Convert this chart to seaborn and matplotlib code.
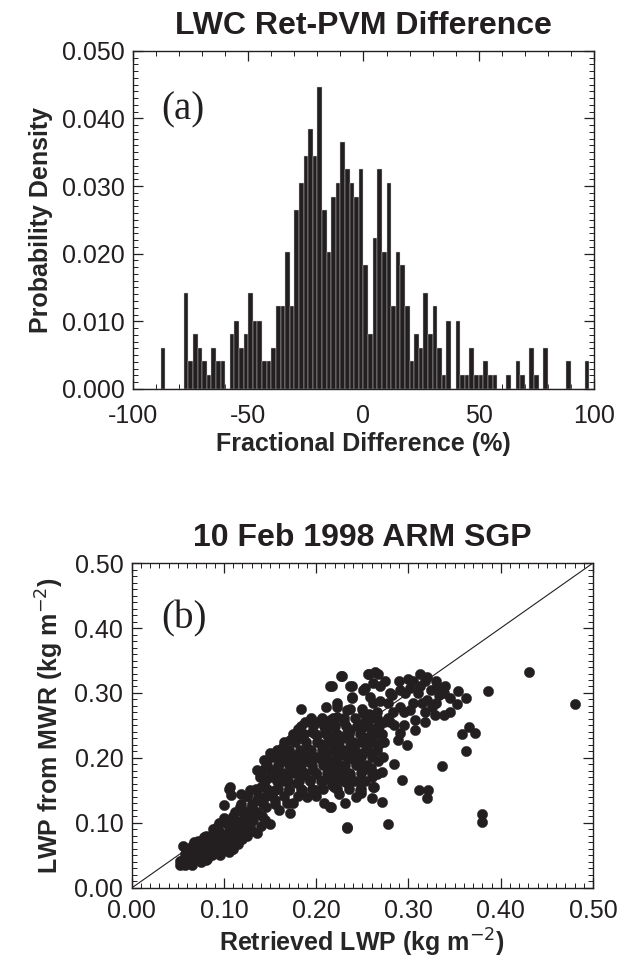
import numpy as np
import pandas as pd
import matplotlib
matplotlib.use("Agg")
import matplotlib.pyplot as plt
import seaborn as sns
from matplotlib.ticker import MultipleLocator, FormatStrFormatter

# ---------------- data: panel (a) histogram ----------------
bin_left = [-88, -78, -76, -74, -72, -70, -68, -66, -64, -62,
            -58, -56, -54, -52, -50, -48, -46, -44, -42, -40,
            -38, -36, -34, -32, -30, -28, -26, -24, -22, -20,
            -18, -16, -14, -12, -10, -8, -6, -4, -2, 0,
            2, 4, 6, 8, 10, 12, 14, 16, 18, 20,
            22, 24, 26, 28, 30, 32, 34, 36, 40, 42,
            44, 46, 48, 50, 52, 54, 56, 62, 66, 68,
            72, 74, 78, 88, 96]
density = [0.0061, 0.0142, 0.0041, 0.0081, 0.0061, 0.0041, 0.0020, 0.0061, 0.0041, 0.0041,
           0.0081, 0.0101, 0.0061, 0.0081, 0.0142, 0.0101, 0.0101, 0.0041, 0.0041, 0.0061,
           0.0122, 0.0122, 0.0203, 0.0122, 0.0264, 0.0304, 0.0345, 0.0385, 0.0345, 0.0446,
           0.0264, 0.0203, 0.0284, 0.0304, 0.0365, 0.0325, 0.0304, 0.0284, 0.0325, 0.0183,
           0.0081, 0.0223, 0.0325, 0.0203, 0.0304, 0.0122, 0.0203, 0.0183, 0.0122, 0.0041,
           0.0081, 0.0061, 0.0142, 0.0081, 0.0122, 0.0061, 0.0020, 0.0101, 0.0101, 0.0020,
           0.0020, 0.0061, 0.0020, 0.0020, 0.0041, 0.0020, 0.0020, 0.0020, 0.0041, 0.0020,
           0.0061, 0.0020, 0.0061, 0.0041, 0.0041]
bin_width = 2

# ---------------- data: panel (b) scatter ----------------
ret_lwp = [
    # outliers / right side
    0.431, 0.481, 0.386, 0.354, 0.362, 0.345, 0.353, 0.366, 0.358, 0.372, 0.362, 0.336, 0.380, 0.380,
    0.311, 0.321, 0.320, 0.293, 0.284, 0.271, 0.263, 0.271, 0.278, 0.233, 0.231, 0.243, 0.247, 0.216, 0.260,
    # upper right cluster
    0.228, 0.257, 0.267, 0.262, 0.269, 0.253, 0.239, 0.239, 0.237, 0.222, 0.217, 0.250, 0.257, 0.269,
    0.312, 0.320, 0.299, 0.291, 0.282, 0.302, 0.312, 0.324, 0.331, 0.340, 0.333, 0.320, 0.325, 0.329,
    0.338, 0.302, 0.291, 0.307, 0.295, 0.284, 0.307, 0.291, 0.289, 0.298, 0.273, 0.260, 0.251, 0.262,
    0.268, 0.259, 0.268, 0.262, 0.267, 0.259, 0.237, 0.230, 0.240, 0.233, 0.246, 0.237, 0.226, 0.222,
    0.217, 0.217, 0.222, 0.217, 0.222,
    0.275, 0.290, 0.305, 0.318, 0.330, 0.280, 0.296, 0.310, 0.338, 0.262, 0.278, 0.305, 0.315, 0.330,
    0.283, 0.295, 0.318, 0.345, 0.280, 0.318,
    # middle band
    0.227, 0.215, 0.256, 0.264, 0.237, 0.251, 0.239, 0.258, 0.184, 0.211, 0.222, 0.233, 0.251, 0.266,
    0.188, 0.201, 0.215, 0.230, 0.248, 0.183, 0.201, 0.215, 0.233, 0.251, 0.266, 0.172, 0.163, 0.150,
    0.143, 0.136, 0.139, 0.157, 0.168, 0.179, 0.193, 0.208, 0.222, 0.235, 0.251, 0.154, 0.168, 0.183,
    0.197, 0.212, 0.226, 0.237, 0.251, 0.266, 0.179, 0.193, 0.208, 0.219, 0.233, 0.248, 0.262, 0.168,
    0.175, 0.172, 0.208, 0.215, 0.233, 0.248, 0.260, 0.107, 0.108, 0.125, 0.117, 0.136, 0.146, 0.141,
    0.132, 0.150, 0.117, 0.103, 0.092, 0.107, 0.089, 0.078, 0.067, 0.056, 0.092, 0.081, 0.070, 0.060,
    0.056, 0.070, 0.085, 0.099, 0.110, 0.125, 0.136, 0.052, 0.081, 0.096,
    # dense core
    0.160, 0.175, 0.190, 0.205, 0.220, 0.185, 0.200, 0.215, 0.230, 0.245, 0.175, 0.190, 0.205, 0.220,
    0.240, 0.255, 0.165, 0.150, 0.200, 0.185, 0.225, 0.240, 0.195, 0.210, 0.180, 0.145, 0.160, 0.128,
    0.140, 0.155, 0.170, 0.120, 0.130, 0.145, 0.155, 0.190, 0.160,
    0.145, 0.157, 0.169, 0.181, 0.193, 0.205, 0.217, 0.229, 0.241, 0.253,
    0.140, 0.152, 0.164, 0.176, 0.188, 0.200, 0.212, 0.224, 0.236, 0.248, 0.260,
    0.147, 0.159, 0.171, 0.183, 0.195, 0.207, 0.219, 0.231, 0.243, 0.255,
    0.152, 0.164, 0.176, 0.188, 0.200, 0.212, 0.224, 0.236, 0.248, 0.260, 0.272,
    0.158, 0.170, 0.182, 0.194, 0.206, 0.218, 0.230, 0.242, 0.254, 0.266,
    0.165, 0.177, 0.189, 0.201, 0.213, 0.225, 0.237, 0.249, 0.261, 0.273,
    0.175, 0.187, 0.199, 0.211, 0.223, 0.235, 0.247, 0.259, 0.271,
    0.184, 0.196, 0.208, 0.220, 0.232, 0.244, 0.256, 0.268,
    0.194, 0.206, 0.218, 0.230, 0.242, 0.254, 0.266, 0.278,
    0.135, 0.147, 0.159, 0.171, 0.183, 0.195, 0.207, 0.222, 0.236,
    0.125, 0.137, 0.152, 0.165, 0.180, 0.200,
    0.118, 0.130, 0.142, 0.155, 0.112, 0.124, 0.136, 0.108, 0.120,
    # lower band
    0.052, 0.055, 0.058, 0.060, 0.062, 0.065, 0.067, 0.070, 0.072, 0.075, 0.075, 0.078, 0.080, 0.082,
    0.083, 0.085, 0.087, 0.088, 0.090, 0.092, 0.093, 0.095, 0.097, 0.098, 0.100, 0.102, 0.104, 0.106,
    0.108, 0.110, 0.112, 0.114, 0.116, 0.118, 0.120, 0.122, 0.125, 0.128, 0.130, 0.065, 0.058, 0.063,
    0.072, 0.077, 0.086, 0.095, 0.100,
    0.095, 0.100, 0.105, 0.088, 0.080, 0.072, 0.065, 0.060, 0.110, 0.105, 0.115, 0.120, 0.125, 0.130,
    0.140, 0.145, 0.110, 0.100, 0.105, 0.118,
]
mwr_lwp = [
    # outliers / right side
    0.332, 0.283, 0.303, 0.303, 0.293, 0.293, 0.283, 0.248, 0.237, 0.239, 0.211, 0.188, 0.114, 0.101,
    0.150, 0.150, 0.138, 0.166, 0.191, 0.179, 0.155, 0.132, 0.098, 0.093, 0.130, 0.140, 0.150, 0.125, 0.170,
    # upper right cluster
    0.326, 0.330, 0.330, 0.315, 0.310, 0.307, 0.310, 0.294, 0.276, 0.279, 0.311, 0.276, 0.268, 0.287,
    0.329, 0.324, 0.321, 0.305, 0.297, 0.307, 0.310, 0.305, 0.310, 0.311, 0.297, 0.289, 0.278, 0.266,
    0.266, 0.274, 0.279, 0.258, 0.251, 0.251, 0.243, 0.238, 0.228, 0.220, 0.255, 0.261, 0.248, 0.240,
    0.237, 0.228, 0.222, 0.207, 0.195, 0.184, 0.243, 0.232, 0.216, 0.201, 0.189, 0.169, 0.179, 0.168,
    0.158, 0.195, 0.216, 0.248, 0.263,
    0.318, 0.318, 0.318, 0.318, 0.318, 0.300, 0.300, 0.300, 0.300, 0.285, 0.285, 0.285, 0.285, 0.285,
    0.270, 0.270, 0.270, 0.270, 0.255, 0.255,
    # middle band
    0.326, 0.311, 0.330, 0.333, 0.310, 0.305, 0.292, 0.294, 0.275, 0.279, 0.284, 0.274, 0.269, 0.271,
    0.256, 0.256, 0.258, 0.256, 0.253, 0.230, 0.235, 0.233, 0.238, 0.233, 0.248, 0.228, 0.215, 0.207,
    0.197, 0.182, 0.171, 0.202, 0.197, 0.202, 0.207, 0.212, 0.207, 0.212, 0.207, 0.182, 0.176, 0.182,
    0.182, 0.187, 0.187, 0.176, 0.182, 0.176, 0.161, 0.166, 0.166, 0.156, 0.161, 0.153, 0.156, 0.130,
    0.130, 0.115, 0.130, 0.125, 0.094, 0.146, 0.138, 0.156, 0.143, 0.141, 0.125, 0.135, 0.125, 0.110,
    0.105, 0.099, 0.102, 0.099, 0.094, 0.084, 0.084, 0.079, 0.071, 0.064, 0.071, 0.066, 0.058, 0.051,
    0.043, 0.046, 0.053, 0.064, 0.074, 0.089, 0.084, 0.041, 0.043, 0.051,
    # dense core
    0.190, 0.188, 0.195, 0.198, 0.195, 0.172, 0.175, 0.178, 0.170, 0.165, 0.205, 0.215, 0.222, 0.225,
    0.225, 0.218, 0.165, 0.170, 0.150, 0.150, 0.145, 0.198, 0.240, 0.245, 0.245, 0.185, 0.178, 0.150,
    0.155, 0.150, 0.150, 0.118, 0.125, 0.140, 0.135, 0.140, 0.120,
    0.165, 0.165, 0.165, 0.165, 0.165, 0.165, 0.165, 0.165, 0.165, 0.165,
    0.177, 0.177, 0.177, 0.177, 0.177, 0.177, 0.177, 0.177, 0.177, 0.177, 0.177,
    0.189, 0.189, 0.189, 0.189, 0.189, 0.189, 0.189, 0.189, 0.189, 0.189,
    0.201, 0.201, 0.201, 0.201, 0.201, 0.201, 0.201, 0.201, 0.201, 0.201, 0.201,
    0.213, 0.213, 0.213, 0.213, 0.213, 0.213, 0.213, 0.213, 0.213, 0.213,
    0.225, 0.225, 0.225, 0.225, 0.225, 0.225, 0.225, 0.225, 0.225, 0.225,
    0.237, 0.237, 0.237, 0.237, 0.237, 0.237, 0.237, 0.237, 0.237,
    0.249, 0.249, 0.249, 0.249, 0.249, 0.249, 0.249, 0.249,
    0.261, 0.261, 0.261, 0.261, 0.261, 0.261, 0.261, 0.261,
    0.153, 0.153, 0.153, 0.153, 0.153, 0.153, 0.153, 0.153, 0.153,
    0.141, 0.141, 0.141, 0.141, 0.141, 0.141,
    0.129, 0.129, 0.129, 0.129, 0.117, 0.117, 0.117, 0.105, 0.105,
    # lower band
    0.035, 0.040, 0.036, 0.045, 0.040, 0.050, 0.043, 0.055, 0.047, 0.060, 0.040, 0.052, 0.062, 0.045,
    0.058, 0.068, 0.050, 0.062, 0.073, 0.055, 0.066, 0.078, 0.060, 0.072, 0.082, 0.065, 0.076, 0.088,
    0.070, 0.082, 0.092, 0.078, 0.088, 0.098, 0.085, 0.095, 0.105, 0.095, 0.115, 0.035, 0.052, 0.058,
    0.063, 0.072, 0.080, 0.088, 0.072,
    0.100, 0.108, 0.100, 0.090, 0.080, 0.072, 0.065, 0.060, 0.060, 0.055, 0.068, 0.075, 0.080, 0.088,
    0.095, 0.105, 0.110, 0.128, 0.153, 0.145,
]

# ---------------- style ----------------
sns.set_theme(style="ticks")
plt.rcParams["font.family"] = ["Liberation Sans", "DejaVu Sans"]
INK = "#231f20"
plt.rcParams.update({
    "axes.edgecolor": INK, "axes.linewidth": 1.0,
    "xtick.color": INK, "ytick.color": INK,
    "xtick.direction": "in", "ytick.direction": "in",
    "xtick.top": True, "ytick.right": True,
    "xtick.major.size": 7, "ytick.major.size": 7,
    "xtick.minor.size": 3.5, "ytick.minor.size": 3.5,
    "xtick.major.width": 0.9, "ytick.major.width": 0.9,
    "xtick.minor.width": 0.7, "ytick.minor.width": 0.7,
    "xtick.labelsize": 18, "ytick.labelsize": 18,
    "text.color": INK,
})

fig = plt.figure(figsize=(6.2, 9.58), dpi=100)
ax1 = fig.add_axes([0.2145, 0.594, 0.7435, 0.353])
ax2 = fig.add_axes([0.2124, 0.0731, 0.7441, 0.3392])

# ---- panel (a)
hist_df = pd.DataFrame({"center": np.array(bin_left, dtype=float) + bin_width / 2,
                        "density": np.array(density, dtype=float)})
sns.histplot(data=hist_df, x="center", weights="density", binwidth=bin_width,
             binrange=(-100, 100), stat="count",
             color=INK, edgecolor="#cfcfcf", linewidth=0.3, alpha=1.0, ax=ax1)
ax1.set_xlim(-100, 100)
ax1.set_ylim(0, 0.05)
ax1.xaxis.set_major_locator(MultipleLocator(50))
ax1.xaxis.set_minor_locator(MultipleLocator(10))
ax1.yaxis.set_major_locator(MultipleLocator(0.01))
ax1.yaxis.set_minor_locator(MultipleLocator(0.001))
ax1.yaxis.set_major_formatter(FormatStrFormatter("%.3f"))
ax1.xaxis.set_major_formatter(FormatStrFormatter("%d"))
ax1.set_title("LWC Ret-PVM Difference", fontsize=23, fontweight="bold", pad=12)
ax1.set_xlabel("Fractional Difference (%)", fontsize=18, fontweight="bold", labelpad=3)
ax1.set_ylabel("Probability Density", fontsize=18, fontweight="bold", labelpad=6)
ax1.text(0.062, 0.825, "(a)", transform=ax1.transAxes, fontsize=28,
         family=["Liberation Serif", "DejaVu Serif"], ha="left", va="center")
ax1.tick_params(axis="x", which="major", pad=11)

# ---- panel (b)
sc_df = pd.DataFrame({"ret": ret_lwp, "mwr": mwr_lwp})
lims = (0.0, 0.5)
sns.lineplot(x=list(lims), y=list(lims), color=INK, linewidth=0.8, ax=ax2, zorder=1)
sns.scatterplot(data=sc_df, x="ret", y="mwr", s=55, color=INK, edgecolor=INK,
                linewidth=0.3, ax=ax2, legend=False, zorder=2)
ax2.set_xlim(*lims)
ax2.set_ylim(*lims)
for axis in (ax2.xaxis, ax2.yaxis):
    axis.set_major_locator(MultipleLocator(0.1))
    axis.set_minor_locator(MultipleLocator(0.01))
    axis.set_major_formatter(FormatStrFormatter("%.2f"))
ax2.set_title("10 Feb 1998 ARM SGP", fontsize=23, fontweight="bold", pad=12)
ax2.set_xlabel("Retrieved LWP (kg m$^{-2}$)", fontsize=18, fontweight="bold", labelpad=3)
ax2.set_ylabel("LWP from MWR (kg m$^{-2}$)", fontsize=18, fontweight="bold", labelpad=6)
ax2.text(0.065, 0.828, "(b)", transform=ax2.transAxes, fontsize=28,
         family=["Liberation Serif", "DejaVu Serif"], ha="left", va="center")
ax2.tick_params(axis="x", which="major", pad=8)

for ax in (ax1, ax2):
    ax.tick_params(which="both", top=True, right=True, direction="in")
    ax.tick_params(axis="y", which="major", pad=6)

fig.savefig("out.png", dpi=100, facecolor="white")
